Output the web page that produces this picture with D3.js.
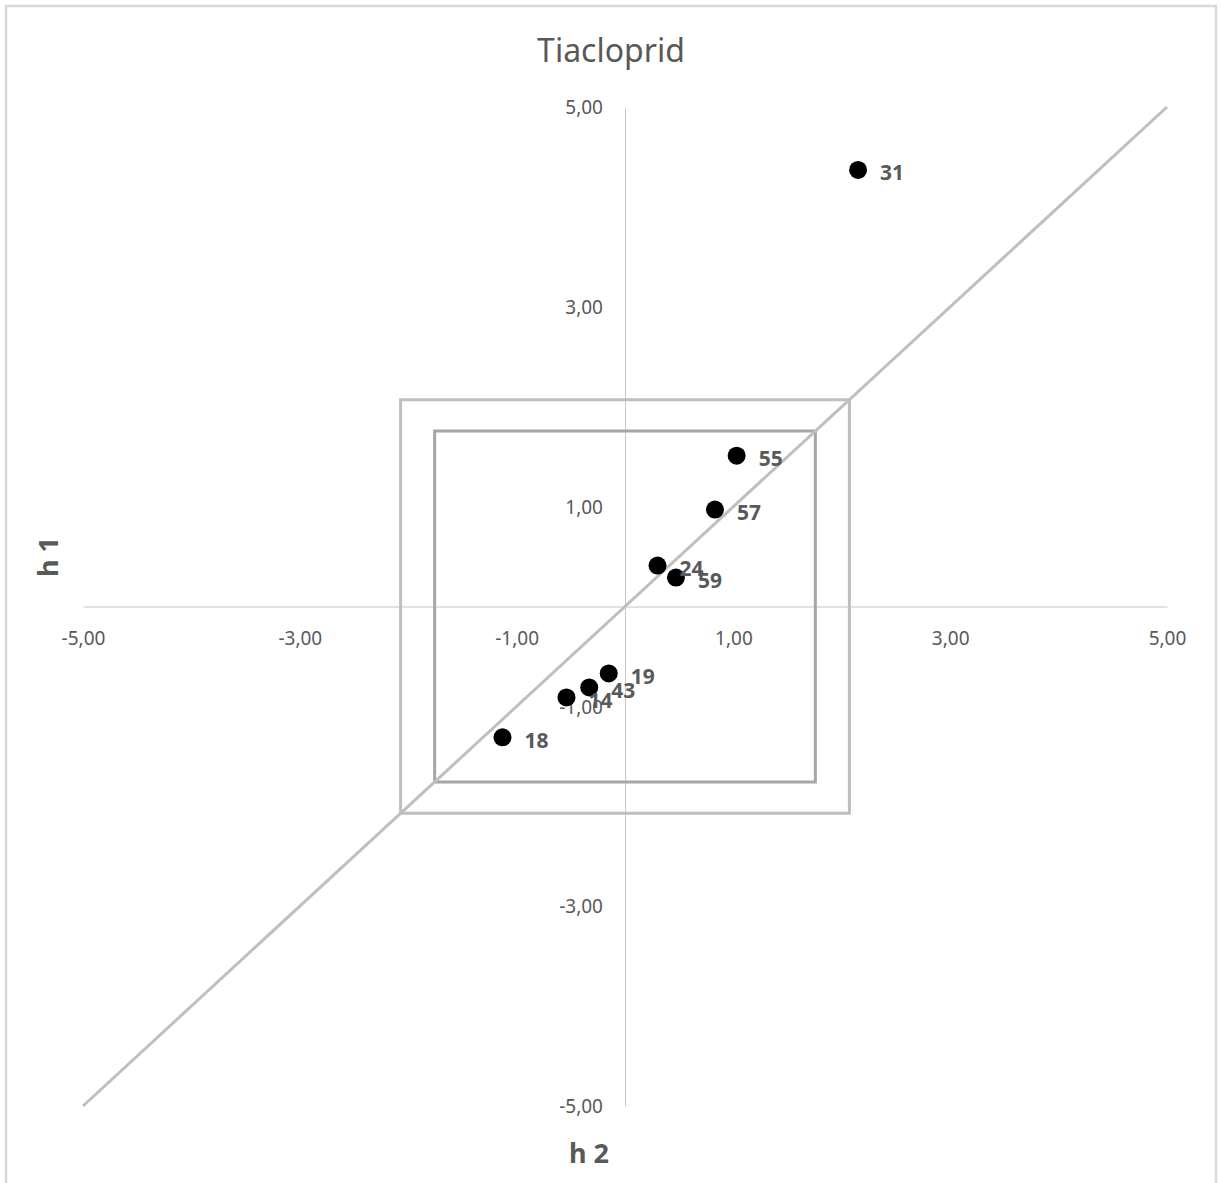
<!DOCTYPE html>
<html>
<head>
<meta charset="utf-8">
<script src="https://cdn.jsdelivr.net/npm/d3@7"></script>
<style>
  html, body { margin: 0; padding: 0; background: #fff; }
  svg { display: block; }
</style>
</head>
<body>
<script>
// Lab results for Tiacloprid: h 2 (x) against h 1 (y)
const labIds = ["31", "55", "57", "24", "59", "19", "43", "14", "18"];
const h2Values = [2.15, 1.03, 0.83, 0.30, 0.47, -0.15, -0.33, -0.54, -1.13];
const h1Values = [4.37, 1.51, 0.97, 0.41, 0.29, -0.67, -0.81, -0.91, -1.31];

// Axis ticks and reference limits
const tickValues = [-5, -3, -1, 1, 3, 5];
const innerLimit = 1.756;
const outerLimit = 2.07;

const W = 1221, H = 1183;
const svg = d3.select("body").append("svg").attr("width", W).attr("height", H);

const fontFamily = "'Noto Sans', 'Open Sans', sans-serif";
const textColor = "#595959";

// Chart area border
svg.append("rect")
  .attr("x", 6).attr("y", 6).attr("width", 1210).attr("height", 1200)
  .attr("fill", "#fff").attr("stroke", "#d9d9d9").attr("stroke-width", 2.5);

const x = d3.scaleLinear().domain([-5, 5]).range([83, 1167]);
const y = d3.scaleLinear().domain([-5, 5]).range([1106, 107]);

// Decimal comma, plain hyphen for negatives
const fmt = v => d3.format(".2f")(v).replace(".", ",").replace("\u2212", "-");

// Horizontal axis crossing at zero
const xAxis = d3.axisBottom(x).tickValues(tickValues).tickSize(0).tickFormat(fmt);
const gx = svg.append("g").attr("transform", `translate(0,${y(0)})`).call(xAxis);
gx.select(".domain").attr("stroke", "#d9d9d9").attr("stroke-width", 1.5);
gx.selectAll("text")
  .attr("dy", null).attr("y", 38)
  .attr("fill", textColor).attr("font-size", 19).attr("font-family", fontFamily);

// Vertical axis crossing at zero
const yAxis = d3.axisLeft(y).tickValues(tickValues).tickSize(0).tickFormat(fmt);
const gy = svg.append("g").attr("transform", `translate(${x(0)},0)`).call(yAxis);
gy.select(".domain").attr("stroke", "#c8c8c8").attr("stroke-width", 1);
gy.selectAll("text")
  .attr("x", -22).attr("dy", "0.35em")
  .attr("fill", textColor).attr("font-size", 19).attr("font-family", fontFamily);

// Limit boxes and the identity line
const line = d3.line().x(d => x(d[0])).y(d => y(d[1]));
const square = L => [[-L, -L], [-L, L], [L, L], [L, -L], [-L, -L]];

svg.append("path").attr("d", line(square(outerLimit)))
  .attr("fill", "none").attr("stroke", "#bfbfbf").attr("stroke-width", 3);
svg.append("path").attr("d", line(square(innerLimit)))
  .attr("fill", "none").attr("stroke", "#a6a6a6").attr("stroke-width", 3);
svg.append("path").attr("d", line([[-5, -5], [5, 5]]))
  .attr("fill", "none").attr("stroke", "#bfbfbf").attr("stroke-width", 3);

// Lab points with their ids
const pts = labIds.map((id, i) => ({ id, x: h2Values[i], y: h1Values[i] }));
const g = svg.append("g");
g.selectAll("circle").data(pts).join("circle")
  .attr("cx", d => x(d.x)).attr("cy", d => y(d.y)).attr("r", 9)
  .attr("fill", "#000");
g.selectAll("text").data(pts).join("text")
  .attr("x", d => x(d.x) + 22).attr("y", d => y(d.y) + 3)
  .attr("dy", "0.35em")
  .attr("fill", textColor).attr("font-size", 21).attr("font-weight", "bold")
  .attr("font-family", fontFamily)
  .text(d => d.id);

// Title and axis titles
svg.append("text").attr("x", 611).attr("y", 62).attr("text-anchor", "middle")
  .attr("fill", textColor).attr("font-size", 32).attr("font-family", fontFamily)
  .text("Tiacloprid");
svg.append("text").attr("x", 589).attr("y", 1163).attr("text-anchor", "middle")
  .attr("fill", textColor).attr("font-size", 27).attr("font-weight", "bold")
  .attr("font-family", fontFamily).text("h 2");
svg.append("text").attr("transform", "translate(58,557) rotate(-90)")
  .attr("text-anchor", "middle")
  .attr("fill", textColor).attr("font-size", 27).attr("font-weight", "bold")
  .attr("font-family", fontFamily).text("h 1");
</script>
</body>
</html>
